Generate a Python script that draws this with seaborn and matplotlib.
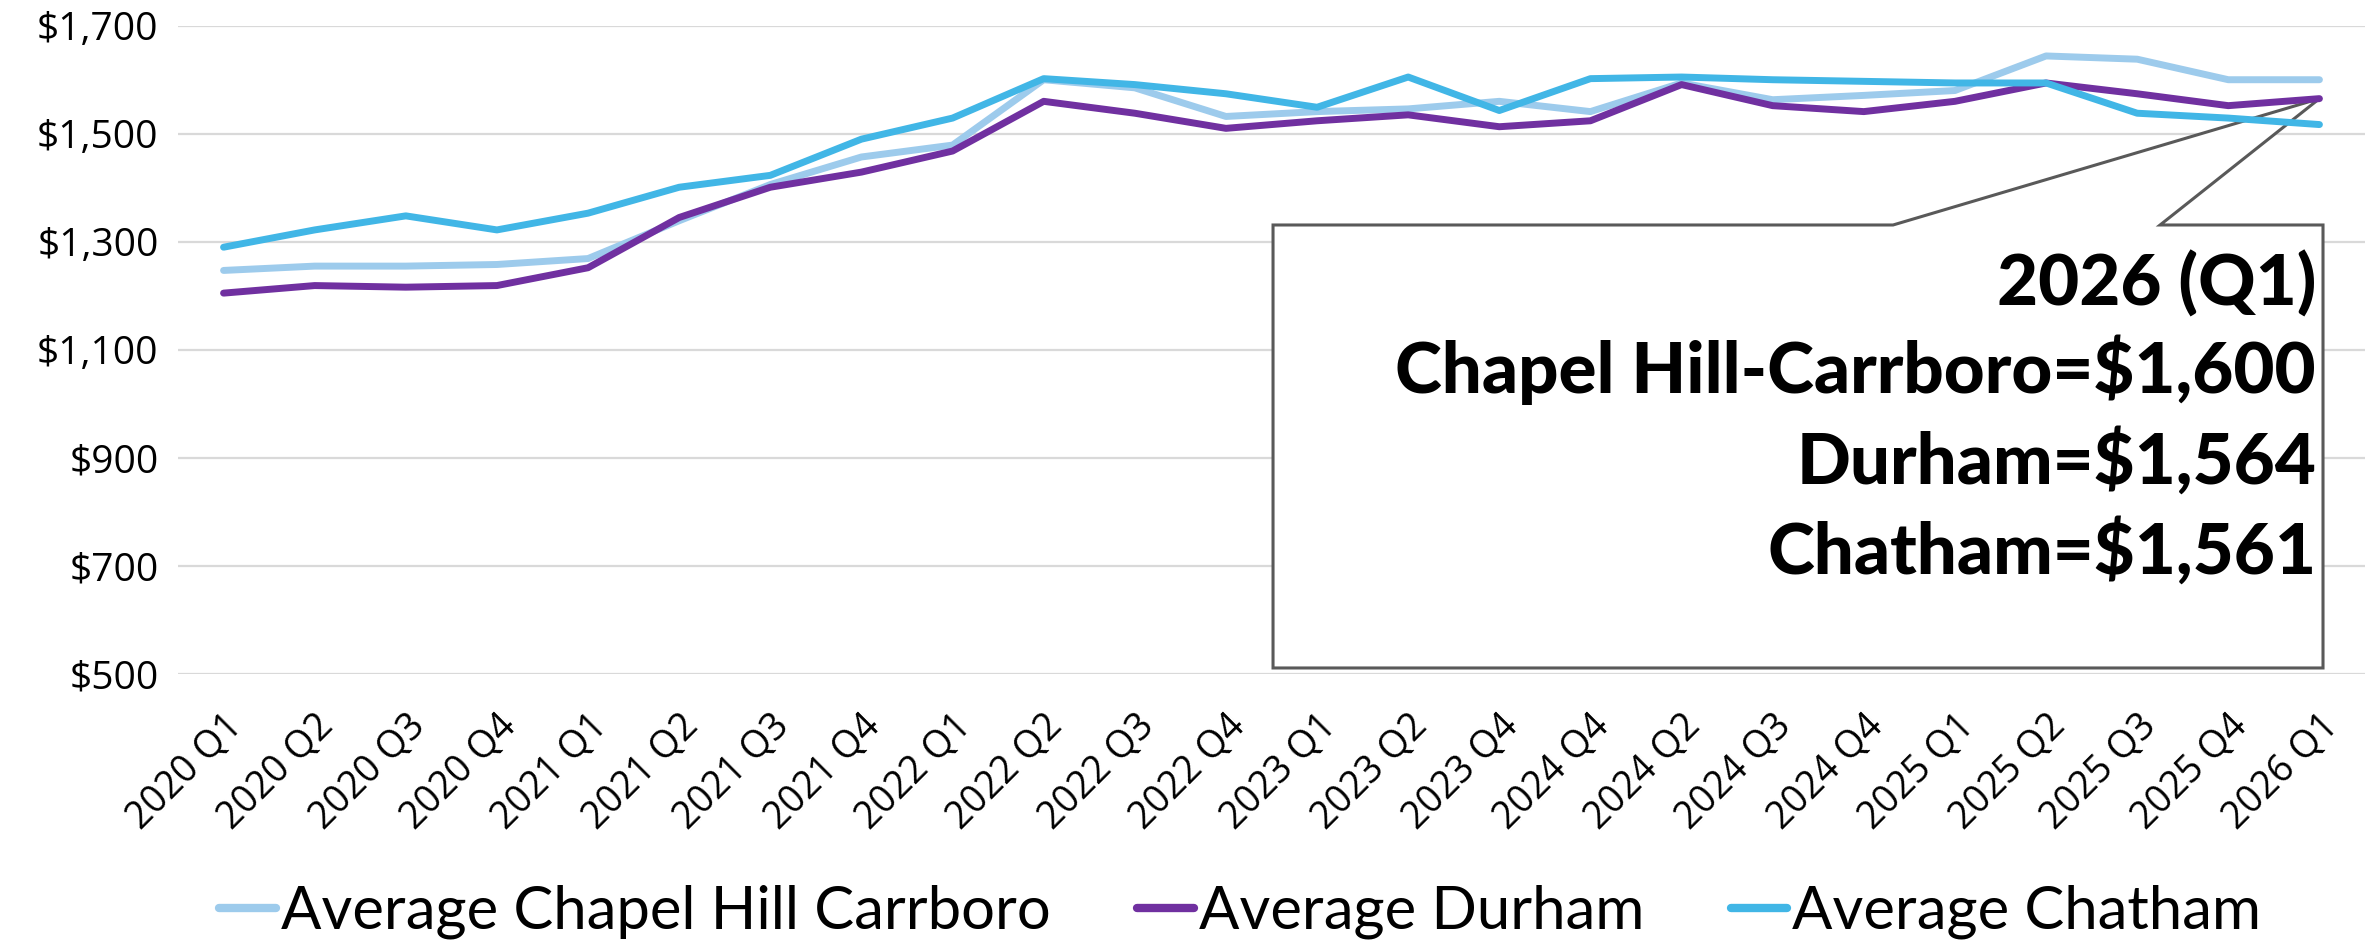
import numpy as np
import pandas as pd
import seaborn as sns
import matplotlib.pyplot as plt
from matplotlib.patches import Polygon

quarters = ["2020 Q1", "2020 Q2", "2020 Q3", "2020 Q4", "2021 Q1", "2021 Q2",
            "2021 Q3", "2021 Q4", "2022 Q1", "2022 Q2", "2022 Q3", "2022 Q4",
            "2023 Q1", "2023 Q2", "2023 Q4", "2024 Q4", "2024 Q2", "2024 Q3",
            "2024 Q4", "2025 Q1", "2025 Q2", "2025 Q3", "2025 Q4", "2026 Q1"]

chapel_hill = [1247, 1255, 1255, 1258, 1269, 1339, 1406, 1457, 1479, 1600, 1585, 1532,
               1541, 1546, 1560, 1541, 1594, 1563, 1571, 1580, 1644, 1638, 1600, 1600]
durham = [1205, 1219, 1216, 1219, 1252, 1345, 1401, 1429, 1468, 1560, 1538, 1510,
          1524, 1535, 1513, 1524, 1591, 1552, 1541, 1560, 1594, 1574, 1552, 1565]
chatham = [1290, 1322, 1348, 1322, 1353, 1401, 1423, 1490, 1529, 1602, 1591, 1574,
           1549, 1605, 1543, 1602, 1605, 1600, 1597, 1594, 1594, 1538, 1529, 1517]

series = ["Average Chapel Hill Carrboro", "Average Durham", "Average Chatham"]
colors = ["#9DCBEC", "#7030A0", "#41B6E6"]
callout = ["2026 (Q1)", "Chapel Hill-Carrboro=$1,600", "Durham=$1,564", "Chatham=$1,561"]

pos = np.arange(len(quarters))
df = pd.concat([
    pd.DataFrame({"pos": pos, "rent": vals, "series": name})
    for name, vals in zip(series, [chapel_hill, durham, chatham])
])

sns.set_style("white")
plt.rcParams["font.family"] = ["Open Sans", "DejaVu Sans"]
plt.rcParams["text.color"] = "black"
plt.rcParams["xtick.color"] = "black"
plt.rcParams["ytick.color"] = "black"

fig = plt.figure(figsize=(23.69, 9.44), dpi=100)
W, H = 2369, 944
ax = fig.add_axes([178 / W, 1 - 674 / H, (2365 - 178) / W, (674 - 25.7) / H])

sns.lineplot(data=df, x="pos", y="rent", hue="series", hue_order=series,
             palette=dict(zip(series, colors)), linewidth=5, sort=False,
             ax=ax, legend=False, zorder=5)
for ln in ax.lines:
    ln.set_solid_capstyle("round")
    ln.set_solid_joinstyle("round")

ax.set_xlim(-0.5, len(quarters) - 0.5)
ax.set_ylim(500, 1700)
ax.set_yticks(np.arange(500, 1701, 200))
ax.set_yticklabels([f"${v:,}" for v in range(500, 1701, 200)], fontsize=28)
ax.set_xticks(pos)
ax.set_xticklabels(quarters, rotation=45, ha="right", rotation_mode="anchor", fontsize=27)
ax.tick_params(axis="x", length=0, pad=24)
ax.tick_params(axis="y", length=0, pad=14)
ax.yaxis.grid(True, color="#D9D9D9", linewidth=1.6)
ax.set_axisbelow(True)
for s in ax.spines.values():
    s.set_visible(False)
ax.set_xlabel("")
ax.set_ylabel("")

# callout box pointing at the last Durham point
tip = ax.transAxes.inverted().transform(ax.transData.transform((pos[-1], durham[-1])))
x0, x1, y0, y1 = 0.5007, 0.9808, 0.0093, 0.6926
b0, b1 = 0.7842, 0.9063
shape = Polygon([(x0, y0), (x1, y0), (x1, y1), (b1, y1), tuple(tip), (b0, y1), (x0, y1)],
                closed=True, transform=ax.transAxes, facecolor="white",
                edgecolor="#595959", linewidth=2.2, zorder=3, clip_on=False)
ax.add_patch(shape)
for txt, yy in zip(callout, [0.602, 0.469, 0.3285, 0.19]):
    ax.text(0.9776, yy, txt, transform=ax.transAxes, ha="right", va="center",
            fontsize=51, fontweight=900, zorder=6, color="black",
            family=["Lato", "DejaVu Sans"])

handles = [plt.Line2D([], [], color=c, linewidth=6, solid_capstyle="round") for c in colors]
fig.legend(handles, series, loc="center", bbox_to_anchor=(0.5235, 0.034), ncol=3,
           frameon=False, prop={"family": ["Lato", "DejaVu Sans"], "size": 43},
           handlelength=0.95, handletextpad=0.08, columnspacing=1.45)

fig.savefig("out.png", dpi=100)
